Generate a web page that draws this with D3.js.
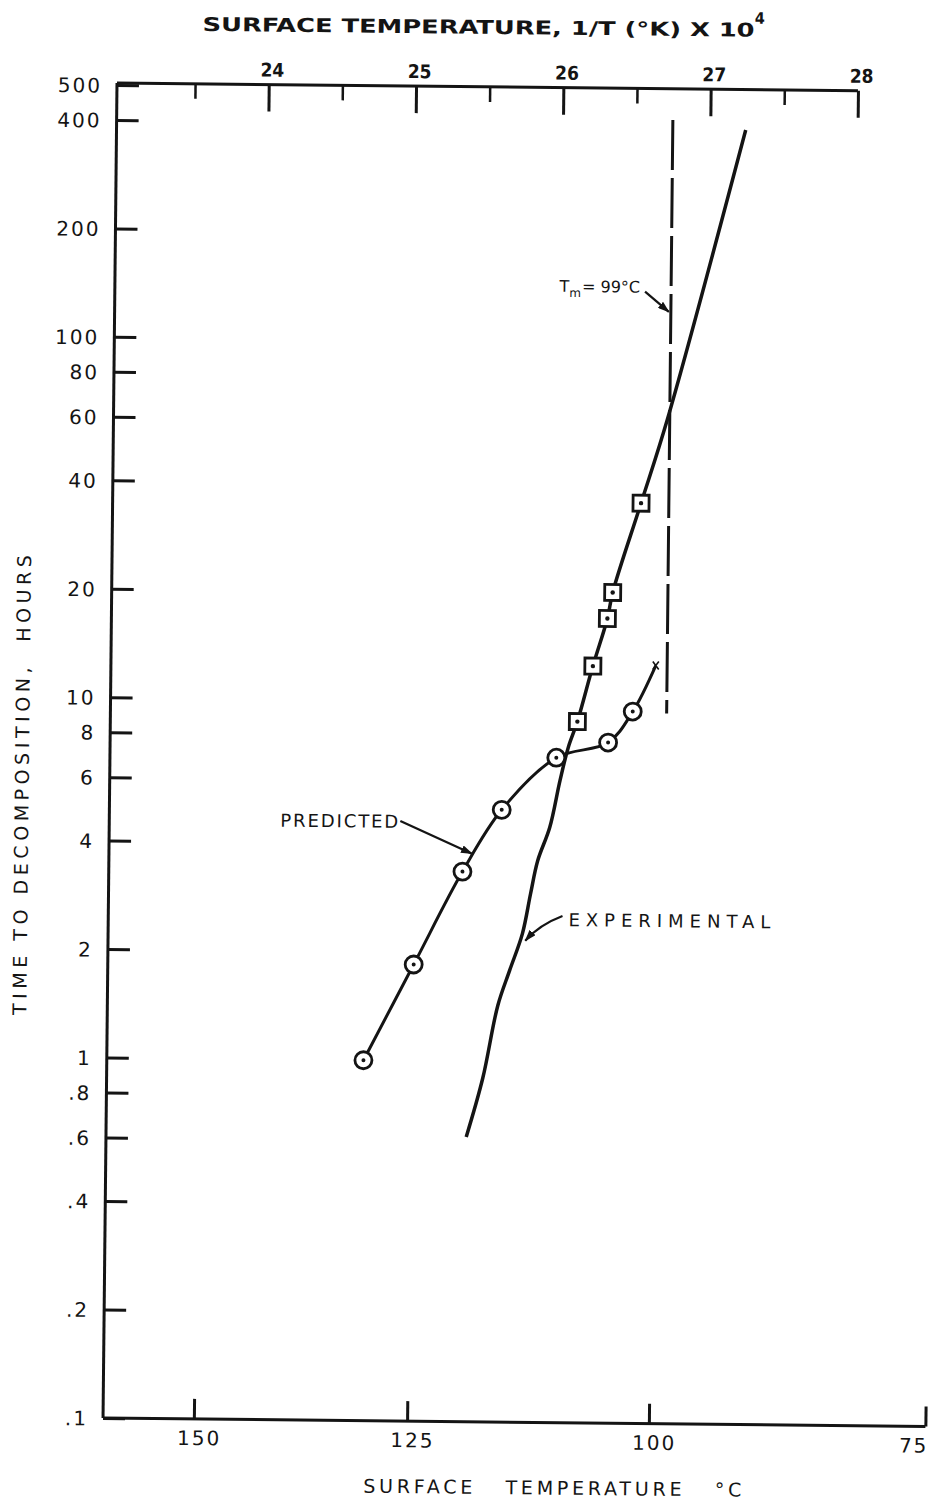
<!DOCTYPE html>
<html>
<head>
<meta charset="utf-8">
<script src="https://cdn.jsdelivr.net/npm/d3@7"></script>
<style>
  body { margin: 0; background: #fff; }
  svg text { font-family: "DejaVu Sans", sans-serif; fill: #141414; }
</style>
</head>
<body>
<svg id="chart" width="938" height="1502"></svg>
<script>
// ---- data -------------------------------------------------------------
// Predicted time to decomposition (circles): surface temperature °C, hours
const predictedTempC = [130.3, 124.8, 119.6, 115.5, 109.9, 104.7, 102.3];
const predictedHours = [1.0, 1.85, 3.36, 5.0, 7.0, 7.74, 9.45];
// where the predicted curve stops (marked with a small x)
const predictedEndTempC = 100.1;
const predictedEndHours = 12.7;

// Experimental observations (squares)
const experimentalTempC = [107.8, 106.3, 104.9, 104.4, 101.7];
const experimentalHours = [8.83, 12.6, 17.1, 20.2, 35.8];

// Faired experimental curve
const experimentalCurveTempC = [118.9, 117.2, 115.7, 114.5, 113.2, 112.4, 111.7, 110.5, 109.5, 108.7,
                                107.8, 106.3, 104.9, 104.4, 101.7, 99.25, 92.1];
const experimentalCurveHours = [0.617, 0.90, 1.43, 1.79, 2.27, 2.93, 3.62, 4.48, 6.05, 7.47,
                                8.83, 12.6, 17.1, 20.2, 35.8, 60.9, 391];

// Melting temperature line
const meltTempC = 99;
const meltHoursRange = [9.35, 415];

// Axis ticks
const hourTicks = [500, 400, 200, 100, 80, 60, 40, 20, 10, 8, 6, 4, 2, 1, 0.8, 0.6, 0.4, 0.2, 0.1];
const hourTickLabels = ["500", "400", "200", "100", "80", "60", "40", "20", "10", "8", "6", "4", "2", "1", ".8", ".6", ".4", ".2", ".1"];
const tempTicksC = [150, 125, 100, 75];
const inverseMajorTicks = [24, 25, 26, 27, 28];
const inverseMinorTicks = [23.5, 24.5, 25.5, 26.5, 27.5];

// ---- scales -----------------------------------------------------------
const invT = c => 1e4 / (c + 273.15);          // 1/T (K) x 10^4
const x = d3.scaleLinear().domain([23, invT(75)]).range([117, 939.4]);
const xC = c => x(invT(c));
const xTop = d3.scaleLinear().domain([22.97, 28]).range([117, 858]);
const y = d3.scaleLog().domain([0.1, 500]).range([1418, 85]);

const svg = d3.select("#chart");
const ink = "#141414";

// the whole sheet sits slightly askew
const g = svg.append("g").attr("transform", "rotate(0.6,117,83)");

// arrowhead
svg.append("defs").append("marker")
  .attr("id", "head").attr("viewBox", "0 0 12 8")
  .attr("refX", 11).attr("refY", 4)
  .attr("markerWidth", 12).attr("markerHeight", 8)
  .attr("markerUnits", "userSpaceOnUse")
  .attr("orient", "auto")
  .append("path").attr("d", "M0,0 L12,4 L0,8 Z").attr("fill", ink);

// ---- frame ------------------------------------------------------------
const frame = g.append("g").attr("stroke", ink).attr("stroke-width", 3).attr("fill", "none");
frame.append("line").attr("x1", 117).attr("y1", 83).attr("x2", 117).attr("y2", y(0.1));
frame.append("line").attr("x1", 117).attr("y1", 83).attr("x2", xTop(28)).attr("y2", 83);
frame.append("line").attr("x1", 117).attr("y1", y(0.1)).attr("x2", xC(75)).attr("y2", y(0.1));

// ---- left axis: hours (log) -------------------------------------------
const yAxis = d3.axisLeft(y)
  .tickValues(hourTicks)
  .tickSize(-22)
  .tickPadding(15)
  .tickFormat((d, i) => hourTickLabels[i]);
const yg = g.append("g").attr("transform", "translate(117,0)").call(yAxis);
yg.select(".domain").remove();
yg.selectAll(".tick line").attr("stroke", ink).attr("stroke-width", 3);
yg.selectAll(".tick text")
  .attr("font-size", 20).attr("letter-spacing", 2).attr("dy", "0.36em")
  .style("font-family", "DejaVu Sans");

// ---- bottom axis: °C placed on 1/T -----------------------------------
const xAxis = d3.axisBottom(x)
  .tickValues(tempTicksC.map(invT))
  .tickSize(-20)
  .tickPadding(12)
  .tickFormat((d, i) => String(tempTicksC[i]));
const xg = g.append("g").attr("transform", `translate(0,${y(0.1)})`).call(xAxis);
xg.select(".domain").remove();
xg.selectAll(".tick line").attr("stroke", ink).attr("stroke-width", 3);
xg.selectAll(".tick text")
  .attr("font-size", 20).attr("letter-spacing", 2)
  .attr("dx", (d, i) => i === tempTicksC.length - 1 ? -12 : 5)
  .style("font-family", "DejaVu Sans");

// ---- top axis: 1/T x 10^4 --------------------------------------------
const topMajor = d3.axisTop(xTop).tickValues(inverseMajorTicks).tickSize(-27).tickPadding(8)
  .tickFormat(d3.format("d"));
const tg = g.append("g").attr("transform", "translate(0,83)").call(topMajor);
tg.select(".domain").remove();
tg.selectAll(".tick line").attr("stroke", ink).attr("stroke-width", 3);
tg.selectAll(".tick text")
  .attr("font-size", 19).attr("font-weight", "bold").attr("dx", 3)
  .style("font-family", "DejaVu Sans Condensed, DejaVu Sans");
const topMinor = d3.axisTop(xTop).tickValues(inverseMinorTicks).tickSize(-15).tickFormat("");
const tm = g.append("g").attr("transform", "translate(0,83)").call(topMinor);
tm.select(".domain").remove();
tm.selectAll(".tick line").attr("stroke", ink).attr("stroke-width", 2.5);

// ---- axis titles -------------------------------------------------------
const topTitle = g.append("text")
  .attr("x", 202).attr("y", 30)
  .attr("font-size", 19).attr("font-weight", "bold")
  .style("font-family", "DejaVu Sans Condensed, DejaVu Sans");
topTitle.append("tspan").text("SURFACE TEMPERATURE, 1/T (°K) X 10")
  .attr("textLength", 552).attr("lengthAdjust", "spacingAndGlyphs");
topTitle.append("tspan").text("4").attr("dy", -13).attr("font-size", 16);

g.append("text")
  .attr("x", 567).attr("y", 1490).attr("text-anchor", "middle")
  .attr("font-size", 19).attr("textLength", 378).attr("lengthAdjust", "spacing")
  .attr("xml:space", "preserve")
  .text("SURFACE   TEMPERATURE   °C");

g.append("text")
  .attr("transform", "translate(36,786) rotate(-90)")
  .attr("text-anchor", "middle")
  .attr("font-size", 19).attr("textLength", 460).attr("lengthAdjust", "spacing")
  .attr("xml:space", "preserve")
  .text("TIME TO DECOMPOSITION,  HOURS");

// ---- melting temperature line -------------------------------------------
g.append("line")
  .attr("x1", xC(meltTempC)).attr("x2", xC(meltTempC))
  .attr("y1", y(meltHoursRange[1])).attr("y2", y(meltHoursRange[0]))
  .attr("stroke", ink).attr("stroke-width", 3)
  .attr("stroke-dasharray", "50,8");

// ---- curves -------------------------------------------------------------
const curve = d3.line()
  .x(d => xC(d[0])).y(d => y(d[1]))
  .curve(d3.curveCatmullRom.alpha(0.5));

const predictedPts = predictedTempC.map((t, i) => [t, predictedHours[i]])
  .concat([[predictedEndTempC, predictedEndHours]]);
g.append("path").attr("d", curve(predictedPts))
  .attr("fill", "none").attr("stroke", ink).attr("stroke-width", 3);

const experimentalPts = experimentalCurveTempC.map((t, i) => [t, experimentalCurveHours[i]]);
g.append("path").attr("d", curve(experimentalPts))
  .attr("fill", "none").attr("stroke", ink).attr("stroke-width", 3.5);

// small x where the predicted curve ends
const ex = xC(predictedEndTempC), ey = y(predictedEndHours);
g.append("path")
  .attr("d", `M${ex - 3},${ey - 4}L${ex + 3},${ey + 4}M${ex + 3},${ey - 4}L${ex - 3},${ey + 4}`)
  .attr("stroke", ink).attr("stroke-width", 1.6);

// ---- markers ------------------------------------------------------------
const circles = g.append("g");
predictedTempC.forEach((t, i) => {
  const cx = xC(t), cy = y(predictedHours[i]);
  circles.append("circle").attr("cx", cx).attr("cy", cy).attr("r", 8.5)
    .attr("fill", "#fff").attr("stroke", ink).attr("stroke-width", 2.8);
  circles.append("circle").attr("cx", cx).attr("cy", cy).attr("r", 2).attr("fill", ink);
});

const squares = g.append("g");
experimentalTempC.forEach((t, i) => {
  const cx = xC(t), cy = y(experimentalHours[i]);
  squares.append("rect").attr("x", cx - 8).attr("y", cy - 8).attr("width", 16).attr("height", 16)
    .attr("fill", "#fff").attr("stroke", ink).attr("stroke-width", 2.8);
  squares.append("circle").attr("cx", cx).attr("cy", cy).attr("r", 2.2).attr("fill", ink);
});

// ---- annotations ----------------------------------------------------------
// PREDICTED
{
  const px = xC(118.6), py = y(3.77);
  g.append("path").attr("d", `M${px - 72},${py - 32}L${px},${py}`)
    .attr("stroke", ink).attr("stroke-width", 2.2).attr("fill", "none").attr("marker-end", "url(#head)");
  g.append("text").attr("x", px - 192).attr("y", py - 25)
    .attr("font-size", 18).attr("textLength", 118).attr("lengthAdjust", "spacing")
    .text("PREDICTED");
}
// EXPERIMENTAL
{
  const px = xC(112.9), py = y(2.17);
  g.append("path").attr("d", `M${px + 37},${py - 25}Q${px + 14},${py - 16} ${px},${py}`)
    .attr("stroke", ink).attr("stroke-width", 2.2).attr("fill", "none").attr("marker-end", "url(#head)");
  g.append("text").attr("x", px + 43).attr("y", py - 15)
    .attr("font-size", 18).attr("textLength", 202).attr("lengthAdjust", "spacing")
    .text("EXPERIMENTAL");
}
// Tm = 99 °C
{
  const px = xC(meltTempC) - 2, py = y(121.7);
  g.append("path").attr("d", `M${px - 24},${py - 20}L${px},${py}`)
    .attr("stroke", ink).attr("stroke-width", 2.2).attr("fill", "none").attr("marker-end", "url(#head)");
  const t = g.append("text").attr("x", px - 29).attr("y", py - 19)
    .attr("text-anchor", "end").attr("font-size", 16);
  t.append("tspan").text("T");
  t.append("tspan").text("m").attr("font-size", 12).attr("dy", 5);
  t.append("tspan").text("= 99°C").attr("dy", -5).attr("dx", 1);
}
</script>
</body>
</html>
